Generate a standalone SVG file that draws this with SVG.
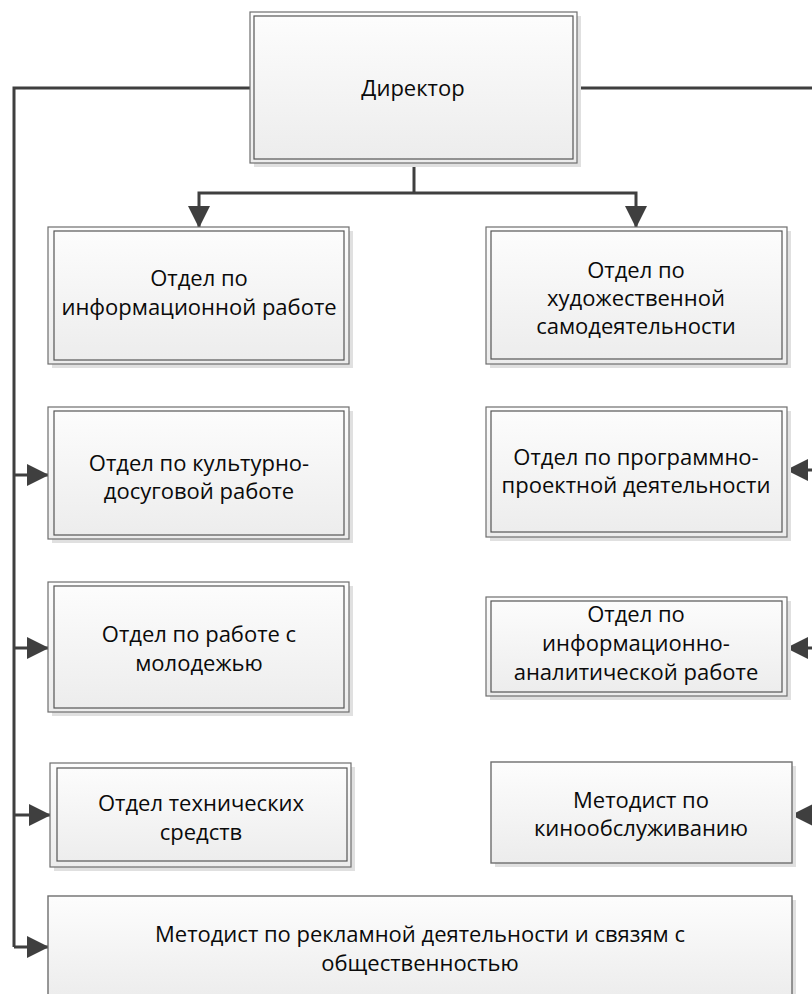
<svg xmlns="http://www.w3.org/2000/svg" width="812" height="994" viewBox="0 0 812 994">
  <defs>
    <linearGradient id="fillGrad" x1="0" y1="0" x2="0" y2="1">
      <stop offset="0" stop-color="#fdfdfd"/>
      <stop offset="1" stop-color="#ececec"/>
    </linearGradient>
    <marker id="arrow" viewBox="0 0 22 22" refX="21" refY="11" markerWidth="22" markerHeight="22" markerUnits="userSpaceOnUse" orient="auto">
      <path d="M0,0 L22,11 L0,22 Z" fill="#3f3f3f"/>
    </marker>
  </defs>
  <style>
    .shadow { fill: #e0e0e0; }
    .outer { fill: url(#fillGrad); stroke: #6e6e6e; stroke-width: 1.2; }
    .inner { fill: none; stroke: #555555; stroke-width: 1.2; }
    .single { fill: url(#fillGrad); stroke: #6e6e6e; stroke-width: 1.4; }
    .conn { fill: none; stroke: #3f3f3f; stroke-width: 3; }
    text { font-family: "Open Sans", "Noto Sans", "DejaVu Sans", sans-serif; font-size: 22px; fill: #0a0a0a; text-anchor: middle; }
  </style>

  <!-- connectors -->
  <g id="connectors">
    <path class="conn" d="M250,88 H14 V947"/>
    <path class="conn" d="M577,88 H812"/>
    <path class="conn" d="M414,163 V193"/>
    <path class="conn" d="M414,193 H199 V227" marker-end="url(#arrow)"/>
    <path class="conn" d="M414,193 H636 V227" marker-end="url(#arrow)"/>
    <path class="conn" d="M14,475 H48" marker-end="url(#arrow)"/>
    <path class="conn" d="M14,648 H48" marker-end="url(#arrow)"/>
    <path class="conn" d="M14,815 H50" marker-end="url(#arrow)"/>
    <path class="conn" d="M14,947 H48" marker-end="url(#arrow)"/>
    <path class="conn" d="M812,470 H787" marker-end="url(#arrow)"/>
    <path class="conn" d="M812,648 H787" marker-end="url(#arrow)"/>
    <path class="conn" d="M812,815 H792" marker-end="url(#arrow)"/>
  </g>

  <!-- Director -->
  <g id="director">
    <rect class="shadow" x="254" y="16" width="327" height="151"/>
    <rect class="outer" x="250" y="12" width="327" height="151"/>
    <rect class="inner" x="254" y="16" width="319" height="143"/>
    <text x="413" y="96">Директор</text>
  </g>

  <!-- Left column -->
  <g id="dept-info">
    <rect class="shadow" x="52" y="231" width="301" height="137"/>
    <rect class="outer" x="48" y="227" width="301" height="137"/>
    <rect class="inner" x="54" y="231" width="290" height="129"/>
    <text x="199" y="286">Отдел по</text>
    <text x="199" y="315">информационной работе</text>
  </g>

  <g id="dept-culture">
    <rect class="shadow" x="52" y="411" width="301" height="132"/>
    <rect class="outer" x="48" y="407" width="301" height="132"/>
    <rect class="inner" x="54" y="411" width="290" height="124"/>
    <text x="199" y="471">Отдел по культурно-</text>
    <text x="199" y="499">досуговой работе</text>
  </g>

  <g id="dept-youth">
    <rect class="shadow" x="52" y="586" width="301" height="130"/>
    <rect class="outer" x="48" y="582" width="301" height="130"/>
    <rect class="inner" x="54" y="586" width="290" height="122"/>
    <text x="199" y="642">Отдел по работе с</text>
    <text x="199" y="671">молодежью</text>
  </g>

  <g id="dept-tech">
    <rect class="shadow" x="54" y="767" width="301" height="104"/>
    <rect class="outer" x="50" y="763" width="301" height="104"/>
    <rect class="inner" x="57" y="768" width="290" height="93"/>
    <text x="201" y="811">Отдел технических</text>
    <text x="201" y="840">средств</text>
  </g>

  <g id="methodist-pr">
    <rect class="shadow" x="52" y="900" width="744" height="100"/>
    <rect class="single" x="48" y="896" width="744" height="104"/>
    <text x="420" y="942">Методист по рекламной деятельности и связям с</text>
    <text x="420" y="971">общественностью</text>
  </g>

  <!-- Right column -->
  <g id="dept-art">
    <rect class="shadow" x="490" y="231" width="301" height="137"/>
    <rect class="outer" x="486" y="227" width="301" height="137"/>
    <rect class="inner" x="491" y="231" width="291" height="128"/>
    <text x="636" y="278">Отдел по</text>
    <text x="636" y="306">художественной</text>
    <text x="636" y="334">самодеятельности</text>
  </g>

  <g id="dept-program">
    <rect class="shadow" x="490" y="411" width="301" height="130"/>
    <rect class="outer" x="486" y="407" width="301" height="130"/>
    <rect class="inner" x="491" y="411" width="291" height="121"/>
    <text x="636" y="465">Отдел по программно-</text>
    <text x="636" y="493">проектной деятельности</text>
  </g>

  <g id="dept-analytics">
    <rect class="shadow" x="490" y="601" width="301" height="99"/>
    <rect class="outer" x="486" y="597" width="301" height="99"/>
    <rect class="inner" x="491" y="601" width="291" height="91"/>
    <text x="636" y="622">Отдел по</text>
    <text x="636" y="651">информационно-</text>
    <text x="636" y="680">аналитической работе</text>
  </g>

  <g id="methodist-cinema">
    <rect class="shadow" x="495" y="766" width="301" height="101"/>
    <rect class="single" x="491" y="762" width="301" height="101"/>
    <text x="641" y="808">Методист по</text>
    <text x="641" y="836">кинообслуживанию</text>
  </g>
</svg>
